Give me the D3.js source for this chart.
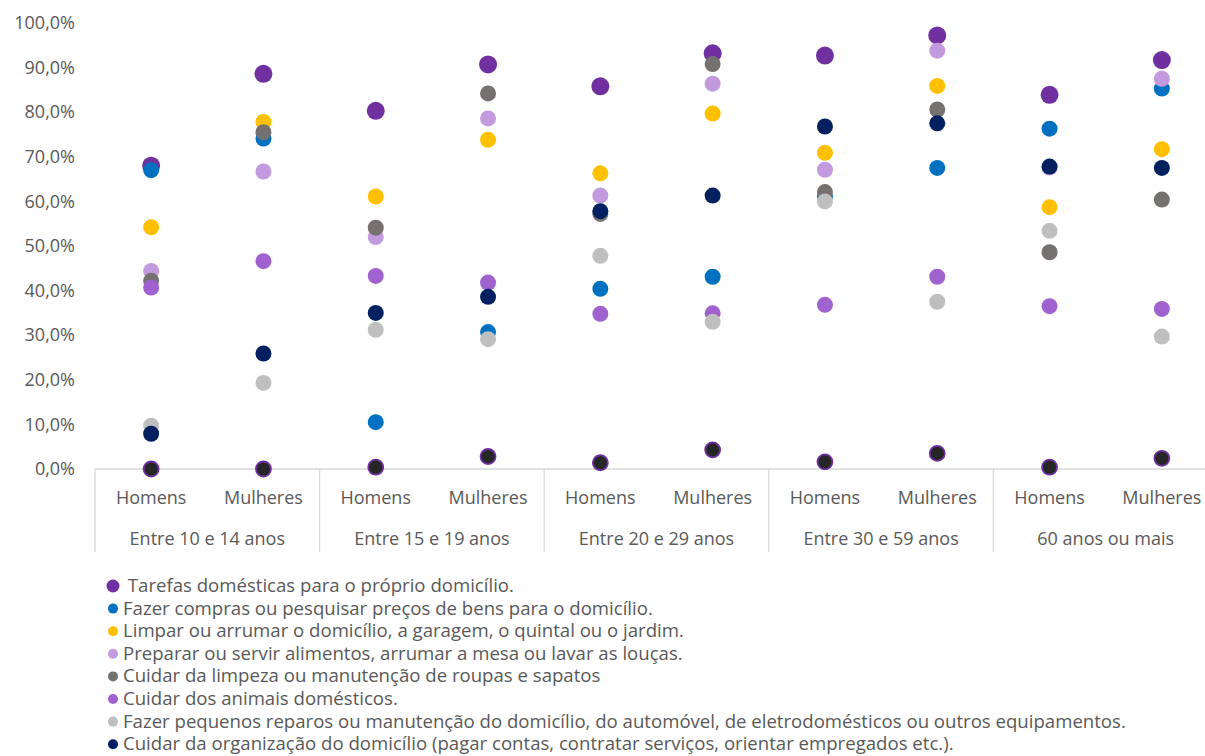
<!DOCTYPE html>
<html>
<head>
<meta charset="utf-8">
<script src="https://cdn.jsdelivr.net/npm/d3@7"></script>
<style>
  html, body { margin: 0; padding: 0; background: #ffffff; }
  svg { display: block; font-family: "Open Sans", Lato, sans-serif; }
</style>
</head>
<body>
<svg id="chart" width="1205" height="756"></svg>
<script>
// Age groups and sexes along the x axis
const groups = ["Entre 10 e 14 anos", "Entre 15 e 19 anos", "Entre 20 e 29 anos", "Entre 30 e 59 anos", "60 anos ou mais"];
const sexes = ["Homens", "Mulheres"];
const yTicks = [0, 10, 20, 30, 40, 50, 60, 70, 80, 90, 100];

// Percentages per series, ordered H/M for each age group
const tarefas     = [68.0, 88.6, 80.3, 90.7, 85.8, 93.2, 92.7, 97.2, 83.9, 91.7];
const compras     = [67.0, 74.1, 10.5, 30.7, 40.4, 43.1, 61.1, 67.5, 76.3, 85.3];
const limpar      = [54.2, 77.8, 61.1, 73.8, 66.3, 79.7, 70.9, 85.9, 58.7, 71.7];
const alimentos   = [44.4, 66.7, 52.0, 78.6, 61.3, 86.4, 67.1, 93.8, 67.6, 87.5];
const roupas      = [42.2, 75.5, 54.1, 84.2, 57.2, 90.8, 62.1, 80.6, 48.6, 60.4];
const animais     = [40.7, 46.6, 43.3, 41.8, 34.8, 34.9, 36.8, 43.1, 36.5, 35.9];
const reparos     = [9.7, 19.3, 31.2, 29.1, 47.8, 33.0, 60.0, 37.5, 53.4, 29.7];
const organizacao = [7.9, 25.9, 35.0, 38.6, 57.8, 61.3, 76.8, 77.5, 67.8, 67.5];
const outras      = [0.0, 0.0, 0.4, 2.8, 1.4, 4.3, 1.6, 3.5, 0.4, 2.4];

const series = [
  { name: " Tarefas domésticas para o próprio domicílio.", values: tarefas, fill: "#7030A0", r: 9, legendR: 6.5 },
  { name: "Fazer compras ou pesquisar preços de bens para o domicílio.", values: compras, fill: "#0070C0", r: 8, legendR: 5 },
  { name: "Limpar ou arrumar o domicílio, a garagem, o quintal ou o jardim.", values: limpar, fill: "#FFC000", r: 8, legendR: 5 },
  { name: "Preparar ou servir alimentos, arrumar a mesa ou lavar as louças.", values: alimentos, fill: "#C39ADE", r: 8, legendR: 5 },
  { name: "Cuidar da limpeza ou manutenção de roupas e sapatos", values: roupas, fill: "#767171", r: 8, legendR: 5 },
  { name: "Cuidar dos animais domésticos.", values: animais, fill: "#A062CE", r: 8, legendR: 5 },
  { name: "Fazer pequenos reparos ou manutenção do domicílio, do automóvel, de eletrodomésticos ou outros equipamentos.", values: reparos, fill: "#BFBFBF", r: 8, legendR: 5 },
  { name: "Cuidar da organização do domicílio (pagar contas, contratar serviços, orientar empregados etc.).", values: organizacao, fill: "#002060", r: 8, legendR: 5 },
  { name: "Outras", values: outras, fill: "#262626", stroke: "#7030A0", r: 7.5, legend: false }
];

const svg = d3.select("#chart");
const margin = { left: 95, right: -13, top: 23, bottom: 287 };
const W = 1205, H = 756;
const plotBottom = H - margin.bottom; // 469
const plotRight = W - margin.right;   // 1218

const cats = [];
groups.forEach(g => sexes.forEach(s => cats.push(g + "|" + s)));

const x = d3.scaleBand().domain(cats).range([margin.left, plotRight]).padding(0);
const xGroup = d3.scaleBand().domain(groups).range([margin.left, plotRight]).padding(0);
const y = d3.scaleLinear().domain([0, 100]).range([plotBottom, margin.top]);

const textColor = "#595959";
const lineColor = "#D9D9D9";
const axisFont = "18px";

// Y axis tick labels
const yAxis = d3.axisLeft(y).tickValues(yTicks)
  .tickFormat(d => d3.format(".1f")(d).replace(".", ",") + "%")
  .tickSize(0).tickPadding(0);
const yg = svg.append("g").attr("transform", `translate(${margin.left - 20},0)`).call(yAxis);
yg.select(".domain").remove();
yg.selectAll("text").attr("fill", textColor)
  .style("font-size", axisFont).style("font-family", "'Open Sans', sans-serif");

// Horizontal baseline
svg.append("line")
  .attr("x1", margin.left).attr("x2", plotRight)
  .attr("y1", plotBottom).attr("y2", plotBottom)
  .attr("stroke", lineColor).attr("stroke-width", 1.3);

// Group separators
const sepBottom = 552;
const seps = groups.map(g => xGroup(g)).concat([plotRight]);
svg.append("g").selectAll("line").data(seps).join("line")
  .attr("x1", d => d).attr("x2", d => d)
  .attr("y1", plotBottom).attr("y2", sepBottom)
  .attr("stroke", lineColor).attr("stroke-width", 1.3);

// Sex labels
svg.append("g").selectAll("text").data(cats).join("text")
  .attr("x", d => x(d) + x.bandwidth() / 2)
  .attr("y", 504)
  .attr("text-anchor", "middle")
  .attr("fill", textColor)
  .style("font-size", axisFont)
  .text(d => d.split("|")[1]);

// Age group labels
svg.append("g").selectAll("text").data(groups).join("text")
  .attr("x", d => xGroup(d) + xGroup.bandwidth() / 2)
  .attr("y", 545)
  .attr("text-anchor", "middle")
  .attr("fill", textColor)
  .style("font-size", axisFont)
  .text(d => d);

// Points, one layer per series in order
const pts = svg.append("g");
series.forEach(s => {
  pts.append("g").selectAll("circle").data(s.values.map((v, i) => ({ v, c: cats[i] }))).join("circle")
    .attr("cx", d => x(d.c) + x.bandwidth() / 2)
    .attr("cy", d => y(d.v))
    .attr("r", s.r)
    .attr("fill", s.fill)
    .attr("stroke", s.stroke || "none")
    .attr("stroke-width", s.stroke ? 1.8 : 0);
});

// Legend
const legendItems = series.filter(s => s.legend !== false);
const lg = svg.append("g");
legendItems.forEach((s, i) => {
  const ly = 586 + i * 22.6;
  lg.append("circle").attr("cx", 113).attr("cy", ly).attr("r", s.legendR).attr("fill", s.fill);
  lg.append("text").attr("x", 123).attr("y", ly + 6)
    .attr("fill", textColor).style("font-size", "18.6px")
    .attr("xml:space", "preserve")
    .style("white-space", "pre")
    .text(s.name);
});
</script>
</body>
</html>
